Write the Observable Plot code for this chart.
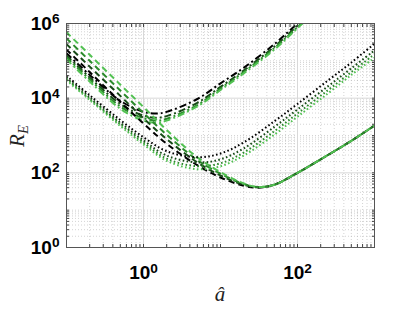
<!DOCTYPE html>
<html>
<head>
<meta charset="utf-8">
<script src="https://cdn.jsdelivr.net/npm/d3@7"></script>
<script src="https://cdn.jsdelivr.net/npm/@observablehq/plot@0.6"></script>
<style>
  html, body { margin: 0; padding: 0; background: #fff; }
  #chart { width: 414px; height: 311px; }
</style>
</head>
<body>
<div id="chart"></div>
<script>
// axis settings
const xDomain = [0.1, 1000];
const yDomain = [1, 1e6];
const xTickExps = [0, 2];
const yTickExps = [0, 2, 4, 6];

// series colours: black -> light green
const seriesColors = ["#000000", "#174a17", "#2b8a2b", "#52c152"];

// dash-dot group (upper U curves)
const xDashDot = [0.1, 0.2, 0.5, 1, 1.5, 2, 5, 10, 20, 50, 100, 200];
const dashDot1 = [1.6e5, 4.2e4, 8500, 4300, 3900, 4300, 9500, 25000, 65000, 2.8e5, 1.0e6, 3.6e6];
const dashDot2 = [1.4e5, 3.6e4, 7000, 3400, 3000, 3300, 7500, 20000, 55000, 2.4e5, 8.8e5, 3.2e6];
const dashDot3 = [1.25e5, 3.2e4, 6000, 2900, 2500, 2800, 6500, 18000, 50000, 2.2e5, 8.0e5, 3.0e6];
const dashDot4 = [1.1e5, 2.8e4, 5200, 2500, 2200, 2500, 6000, 16500, 46000, 2.0e5, 7.5e5, 2.8e6];

// dashed group (steep descent, minimum near 30)
const xDashed = [0.1, 0.2, 0.5, 1, 2, 5, 10, 20, 30, 50, 100, 200, 500, 1000];
const dashed1 = [2.0e5, 5.0e4, 8000, 2100, 600, 160, 75, 45, 40, 48, 100, 230, 720, 1850];
const dashed2 = [2.8e5, 7.0e4, 11500, 2900, 800, 190, 85, 48, 41, 48, 100, 230, 720, 1850];
const dashed3 = [4.0e5, 1.0e5, 16000, 4000, 1050, 220, 95, 50, 42, 48, 100, 230, 720, 1850];
const dashed4 = [5.8e5, 1.45e5, 23000, 5800, 1400, 260, 105, 52, 42, 48, 100, 230, 720, 1850];

// dotted group (lower curves)
const xDotted = [0.1, 0.2, 0.5, 1, 2, 5, 10, 20, 50, 100, 250, 500, 1000];
const dotted1 = [4.0e4, 1.2e4, 2600, 900, 380, 260, 330, 650, 2400, 7000, 3.0e4, 9.0e4, 2.9e5];
const dotted2 = [3.6e4, 1.05e4, 2200, 740, 290, 190, 230, 450, 1700, 5000, 2.1e4, 6.3e4, 1.9e5];
const dotted3 = [3.3e4, 9600, 2000, 650, 240, 150, 180, 350, 1300, 3900, 1.65e4, 5.0e4, 1.5e5];
const dotted4 = [3.0e4, 9000, 1800, 580, 210, 125, 150, 290, 1050, 3200, 1.35e4, 4.2e4, 1.2e5];

const groups = [
  {xs: xDashDot, ys: [dashDot1, dashDot2, dashDot3, dashDot4], dash: "7,3,2,3"},
  {xs: xDashed, ys: [dashed1, dashed2, dashed3, dashed4], dash: "6,4"},
  {xs: xDotted, ys: [dotted1, dotted2, dotted3, dotted4], dash: "1.6,2.4"}
];

const rows = [];
groups.forEach((g, gi) => {
  g.ys.forEach((ys, si) => {
    ys.forEach((y, i) => rows.push({x: g.xs[i], y, series: `g${gi}s${si}`}));
  });
});

const xMajor = xTickExps.map(e => 10 ** e);
const yMajor = yTickExps.map(e => 10 ** e);
const xAll = d3.scaleLog().domain(xDomain).ticks();
const yAll = d3.scaleLog().domain(yDomain).ticks();
const xMinor = xAll.filter(v => !xMajor.some(m => Math.abs(m - v) / m < 1e-9));
const yMinor = yAll.filter(v => !yMajor.some(m => Math.abs(m - v) / m < 1e-9));

const lineMarks = [];
groups.forEach((g, gi) => {
  g.ys.forEach((ys, si) => {
    lineMarks.push(Plot.line(rows.filter(r => r.series === `g${gi}s${si}`), {
      x: "x", y: "y", stroke: seriesColors[si], strokeWidth: 2,
      strokeDasharray: g.dash, strokeLinecap: "butt", curve: "catmull-rom", clip: true
    }));
  });
});

const svg = Plot.plot({
  width: 414, height: 311,
  marginLeft: 66, marginRight: 40, marginTop: 23, marginBottom: 64,
  style: {fontFamily: "'Liberation Sans', Arial, sans-serif", background: "#fff", overflow: "visible"},
  x: {type: "log", domain: xDomain, label: null, axis: null},
  y: {type: "log", domain: yDomain, label: null, axis: null},
  marks: [
    Plot.gridX(xMinor, {stroke: "#aaa", strokeOpacity: 0.5, strokeDasharray: "1,2"}),
    Plot.gridY(yMinor, {stroke: "#aaa", strokeOpacity: 0.5, strokeDasharray: "1,2"}),
    Plot.gridX(xMajor, {stroke: "#d8d8d8", strokeOpacity: 1}),
    Plot.gridY(yMajor, {stroke: "#d8d8d8", strokeOpacity: 1}),
    ...lineMarks,
    Plot.axisX(xMajor, {anchor: "bottom", tickSize: 0, tickPadding: 18, fontSize: 19, fontWeight: "bold",
      tickFormat: d => `10^${Math.round(Math.log10(d))}`, label: null}),
    Plot.axisY(yMajor, {anchor: "left", tickSize: 0, tickPadding: 7, fontSize: 19, fontWeight: "bold",
      tickFormat: d => `10^${Math.round(Math.log10(d))}`, label: null}),
    Plot.axisX(xAll, {anchor: "bottom", tickSize: -3, tickFormat: () => "", label: null, stroke: "#444"}),
    Plot.axisX(xAll, {anchor: "top", tickSize: -3, tickFormat: () => "", label: null, stroke: "#444"}),
    Plot.axisY(yAll, {anchor: "left", tickSize: -3, tickFormat: () => "", label: null, stroke: "#444"}),
    Plot.axisY(yAll, {anchor: "right", tickSize: -3, tickFormat: () => "", label: null, stroke: "#444"}),
    Plot.frame({stroke: "#555", strokeWidth: 1})
  ]
});

// superscript exponents in tick labels
d3.select(svg).selectAll("text").each(function() {
  const t = this.textContent;
  if (t && t.includes("^")) {
    const [base, exp] = t.split("^");
    const sel = d3.select(this);
    sel.text(null);
    sel.append("tspan").text(base);
    sel.append("tspan").attr("dy", "-0.47em").attr("font-size", "0.72em").text(exp);
  }
});

// axis titles
const s = d3.select(svg);
s.append("text")
  .attr("transform", "translate(24,136) rotate(-90)")
  .attr("text-anchor", "middle")
  .attr("font-family", "'Liberation Serif', 'DejaVu Serif', serif")
  .attr("font-style", "italic")
  .attr("font-size", 21)
  .attr("fill", "#222")
  .call(t => {
    t.append("tspan").text("R");
    t.append("tspan").attr("dy", "0.3em").attr("font-size", "0.7em").text("E");
  });
s.append("text")
  .attr("x", 220).attr("y", 301)
  .attr("text-anchor", "middle")
  .attr("font-family", "'Liberation Serif', 'DejaVu Serif', serif")
  .attr("font-style", "italic")
  .attr("font-size", 21)
  .attr("fill", "#222")
  .text("â");

document.getElementById("chart").appendChild(svg);
</script>
</body>
</html>
